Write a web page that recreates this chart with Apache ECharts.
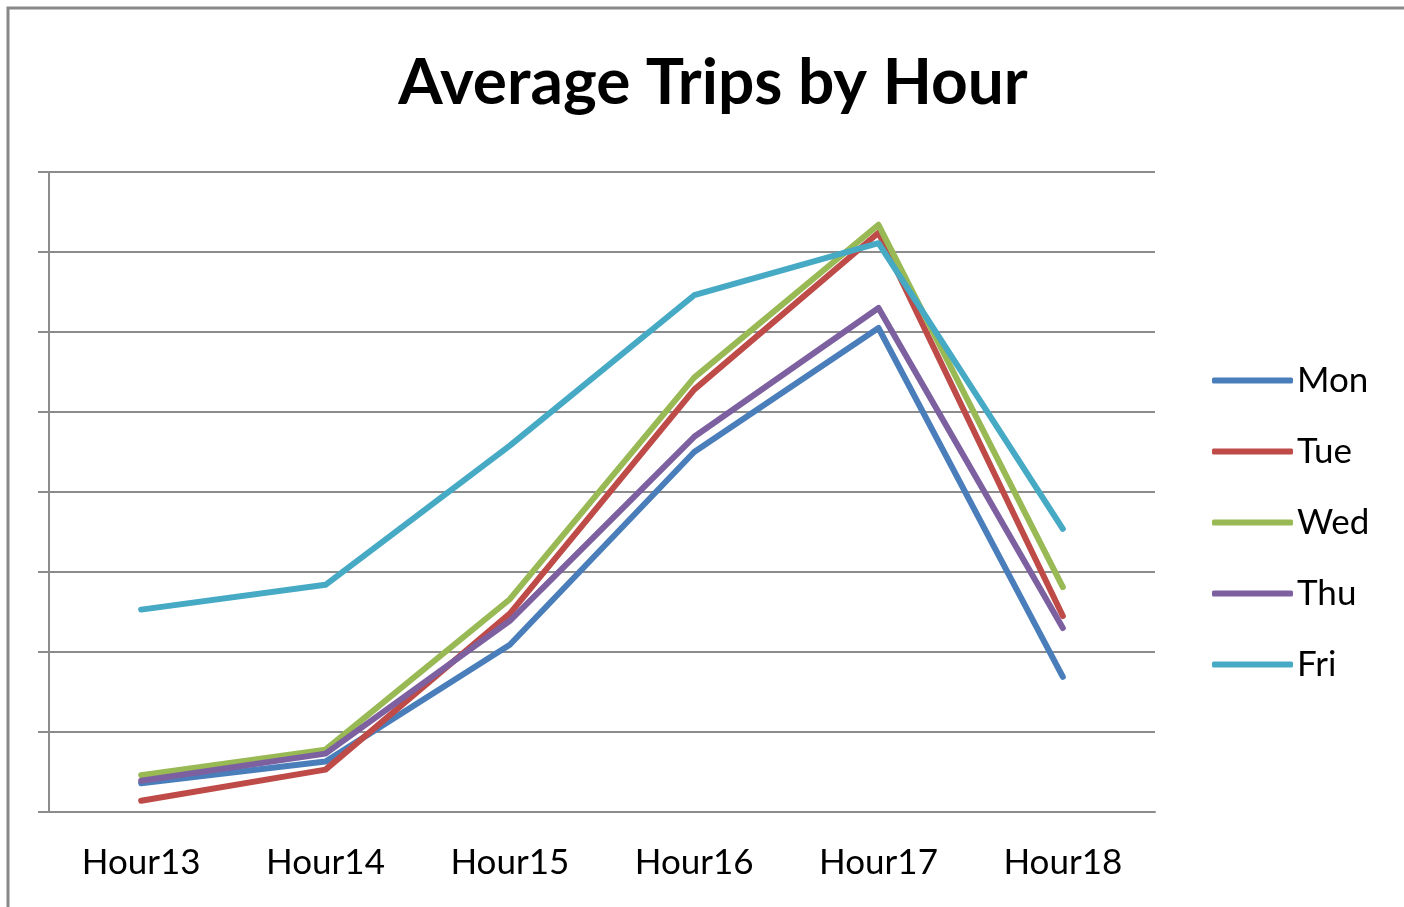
<!DOCTYPE html>
<html>
<head>
<meta charset="utf-8">
<title>Average Trips by Hour</title>
<script src="https://cdn.jsdelivr.net/npm/echarts@6/dist/echarts.min.js"></script>
<style>
  html, body { margin: 0; padding: 0; background: #fff; }
  #main { width: 1404px; height: 907px; }
</style>
</head>
<body>
<div id="main"></div>
<script>
// categories
var hours = ['Hour13', 'Hour14', 'Hour15', 'Hour16', 'Hour17', 'Hour18']

// average trips (no y labels in the original)
var mon = [0.36, 0.63, 2.09, 4.50, 6.05, 1.69]
var tue = [0.14, 0.53, 2.48, 5.28, 7.24, 2.45]
var wed = [0.46, 0.78, 2.66, 5.43, 7.34, 2.81]
var thu = [0.39, 0.73, 2.39, 4.69, 6.30, 2.30]
var fri = [2.53, 2.84, 4.58, 6.46, 7.11, 3.54]

var days = ['Mon', 'Tue', 'Wed', 'Thu', 'Fri']
var colors = ['#4a7ebb', '#be4b48', '#98b954', '#7d60a0', '#46aac5']
var values = [mon, tue, wed, thu, fri]

var chart = echarts.init(document.getElementById('main'))

var series = days.map(function (d, i) {
  return {
    name: d,
    type: 'line',
    data: values[i],
    symbol: 'none',
    lineStyle: { width: 6, color: colors[i], cap: 'round', join: 'round' },
    itemStyle: { color: colors[i] }
  }
})

var option = {
  animation: false,
  color: colors,
  graphic: [{
    type: 'rect',
    shape: { x: 8, y: 8, width: 1500, height: 1000 },
    style: { fill: 'none', stroke: '#888888', lineWidth: 3 },
    silent: true
  }],
  title: {
    text: 'Average Trips by Hour',
    left: 708,
    textAlign: 'center',
    top: 46,
    textStyle: {
      fontFamily: 'Lato',
      fontWeight: 'bold',
      fontSize: 64,
      color: '#000'
    }
  },
  legend: {
    orient: 'vertical',
    left: 1207,
    top: 358,
    itemWidth: 81,
    itemHeight: 6,
    itemGap: 36,
    icon: 'roundRect',
    data: days,
    textStyle: {
      fontFamily: 'Lato',
      fontSize: 35,
      lineHeight: 30,
      color: '#000',
      padding: [0, 0, 0, -1]
    }
  },
  grid: {
    left: 49,
    right: 249,
    top: 172,
    bottom: 95,
    containLabel: false
  },
  xAxis: {
    type: 'category',
    data: hours,
    boundaryGap: true,
    axisLine: { lineStyle: { color: '#8c8c8c', width: 2 } },
    axisTick: { length: 13, lineStyle: { color: '#8c8c8c', width: 2 } },
    axisLabel: {
      margin: 33,
      fontFamily: 'Lato',
      fontSize: 35,
      color: '#000'
    }
  },
  yAxis: {
    type: 'value',
    min: 0,
    max: 8,
    interval: 1,
    axisLine: { show: true, lineStyle: { color: '#8c8c8c', width: 2 } },
    axisTick: { show: true, length: 11, lineStyle: { color: '#8c8c8c', width: 2 } },
    axisLabel: { show: false },
    splitLine: { lineStyle: { color: '#8c8c8c', width: 2 } }
  },
  series: series
}

chart.setOption(option)
</script>
</body>
</html>
